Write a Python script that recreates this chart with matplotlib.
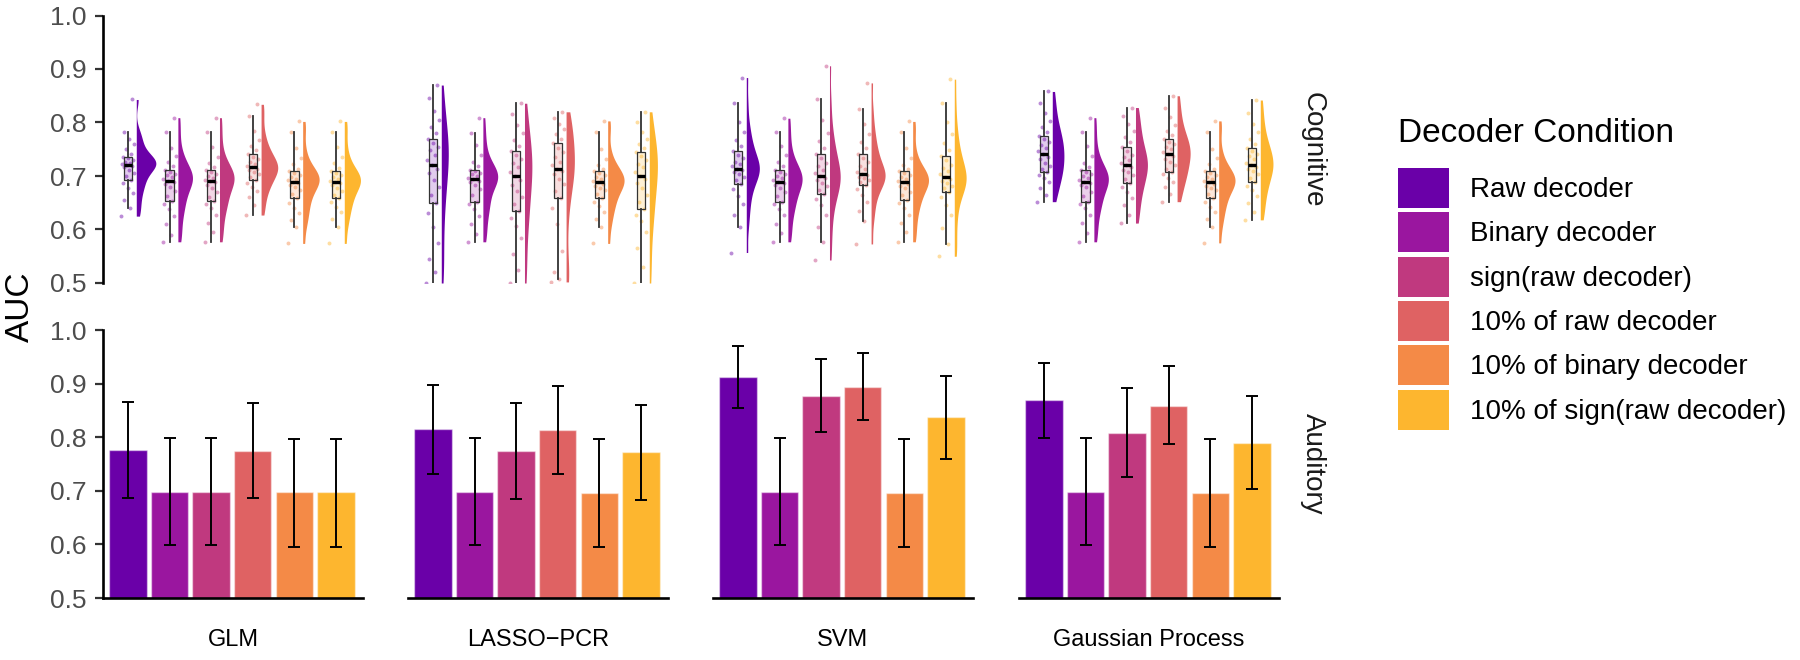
import numpy as np
import matplotlib
matplotlib.use("Agg")
import matplotlib.pyplot as plt
from matplotlib.patches import Patch
from matplotlib.colors import to_rgba

plt.rcParams['font.family'] = ['Liberation Sans', 'DejaVu Sans']

# ---------------- data ----------------
models = ["GLM", "LASSO\u2212PCR", "SVM", "Gaussian Process"]
conditions = ["Raw decoder", "Binary decoder", "sign(raw decoder)",
              "10% of raw decoder", "10% of binary decoder", "10% of sign(raw decoder)"]
tasks = ["Cognitive", "Auditory"]
colors = ["#6A00A8", "#9A169F", "#C0397F", "#DF6263", "#F48A47", "#FDB62F"]
yticks = [0.5, 0.6, 0.7, 0.8, 0.9, 1.0]

# Auditory: mean AUC and error-bar bounds (per condition)
aud_mean_glm = [0.776, 0.698, 0.698, 0.775, 0.697, 0.697]
aud_lo_glm = [0.686, 0.599, 0.599, 0.686, 0.596, 0.596]
aud_hi_glm = [0.866, 0.799, 0.799, 0.864, 0.797, 0.797]

aud_mean_lasso = [0.815, 0.698, 0.774, 0.813, 0.696, 0.772]
aud_lo_lasso = [0.731, 0.599, 0.685, 0.731, 0.596, 0.682]
aud_hi_lasso = [0.897, 0.799, 0.864, 0.896, 0.797, 0.861]

aud_mean_svm = [0.912, 0.698, 0.877, 0.894, 0.696, 0.837]
aud_lo_svm = [0.854, 0.599, 0.810, 0.832, 0.596, 0.760]
aud_hi_svm = [0.970, 0.799, 0.945, 0.958, 0.797, 0.915]

aud_mean_gp = [0.869, 0.698, 0.808, 0.859, 0.696, 0.789]
aud_lo_gp = [0.799, 0.599, 0.725, 0.787, 0.596, 0.703]
aud_hi_gp = [0.939, 0.799, 0.892, 0.932, 0.797, 0.876]

# Cognitive: per-subject AUC values
cog_glm = [
    [0.625, 0.640, 0.655, 0.668, 0.678, 0.686, 0.692, 0.700, 0.706, 0.712, 0.716, 0.719, 0.721,
     0.723, 0.725, 0.727, 0.730, 0.733, 0.735, 0.742, 0.750, 0.760, 0.770, 0.782, 0.843],
    [0.577, 0.590, 0.610, 0.625, 0.638, 0.647, 0.653, 0.662, 0.672, 0.680, 0.685, 0.688, 0.690,
     0.694, 0.698, 0.701, 0.704, 0.708, 0.712, 0.718, 0.726, 0.737, 0.752, 0.782, 0.809],
    [0.577, 0.595, 0.612, 0.628, 0.640, 0.648, 0.653, 0.660, 0.670, 0.678, 0.684, 0.688, 0.690,
     0.693, 0.697, 0.700, 0.703, 0.707, 0.712, 0.717, 0.724, 0.735, 0.755, 0.782, 0.809],
    [0.627, 0.645, 0.660, 0.672, 0.680, 0.687, 0.692, 0.698, 0.703, 0.707, 0.711, 0.714, 0.716,
     0.719, 0.722, 0.726, 0.731, 0.736, 0.741, 0.748, 0.757, 0.768, 0.785, 0.812, 0.834],
    [0.574, 0.604, 0.618, 0.630, 0.640, 0.650, 0.658, 0.666, 0.673, 0.679, 0.684, 0.687, 0.689,
     0.692, 0.695, 0.699, 0.702, 0.705, 0.709, 0.714, 0.722, 0.734, 0.752, 0.782, 0.802],
    [0.574, 0.604, 0.620, 0.632, 0.642, 0.651, 0.658, 0.665, 0.672, 0.678, 0.683, 0.686, 0.689,
     0.691, 0.694, 0.698, 0.701, 0.705, 0.709, 0.715, 0.724, 0.736, 0.755, 0.782, 0.802],
]
cog_lasso = [
    [0.500, 0.520, 0.545, 0.575, 0.605, 0.630, 0.649, 0.665, 0.680, 0.693, 0.705, 0.714, 0.721,
     0.730, 0.740, 0.748, 0.755, 0.762, 0.770, 0.780, 0.792, 0.805, 0.822, 0.845, 0.870],
    [0.577, 0.592, 0.610, 0.626, 0.638, 0.647, 0.652, 0.664, 0.675, 0.683, 0.688, 0.691, 0.694,
     0.697, 0.700, 0.703, 0.706, 0.709, 0.712, 0.718, 0.727, 0.740, 0.758, 0.781, 0.809],
    [0.500, 0.525, 0.555, 0.585, 0.607, 0.622, 0.635, 0.648, 0.660, 0.672, 0.684, 0.693, 0.700,
     0.708, 0.716, 0.724, 0.732, 0.740, 0.747, 0.757, 0.768, 0.780, 0.795, 0.815, 0.836],
    [0.502, 0.508, 0.520, 0.560, 0.610, 0.640, 0.658, 0.672, 0.685, 0.695, 0.703, 0.709, 0.714,
     0.720, 0.727, 0.735, 0.744, 0.752, 0.761, 0.770, 0.778, 0.787, 0.797, 0.808, 0.820],
    [0.574, 0.604, 0.620, 0.633, 0.643, 0.651, 0.658, 0.666, 0.673, 0.678, 0.682, 0.685, 0.688,
     0.691, 0.694, 0.698, 0.701, 0.705, 0.709, 0.714, 0.721, 0.732, 0.750, 0.783, 0.803],
    [0.500, 0.530, 0.565, 0.595, 0.615, 0.628, 0.638, 0.652, 0.665, 0.677, 0.687, 0.694, 0.700,
     0.708, 0.716, 0.723, 0.730, 0.737, 0.745, 0.752, 0.760, 0.770, 0.783, 0.800, 0.820],
]
cog_svm = [
    [0.557, 0.604, 0.628, 0.647, 0.662, 0.675, 0.685, 0.693, 0.699, 0.704, 0.708, 0.711, 0.714,
     0.718, 0.722, 0.727, 0.733, 0.740, 0.747, 0.757, 0.768, 0.782, 0.800, 0.836, 0.884],
    [0.577, 0.593, 0.611, 0.627, 0.639, 0.647, 0.652, 0.662, 0.671, 0.678, 0.683, 0.686, 0.689,
     0.693, 0.697, 0.700, 0.704, 0.708, 0.712, 0.718, 0.726, 0.739, 0.757, 0.782, 0.808],
    [0.543, 0.577, 0.605, 0.628, 0.645, 0.657, 0.666, 0.674, 0.681, 0.687, 0.692, 0.696, 0.700,
     0.705, 0.711, 0.718, 0.725, 0.733, 0.741, 0.752, 0.765, 0.780, 0.805, 0.843, 0.906],
    [0.573, 0.615, 0.635, 0.652, 0.665, 0.676, 0.683, 0.688, 0.692, 0.696, 0.699, 0.702, 0.704,
     0.708, 0.713, 0.719, 0.726, 0.734, 0.742, 0.752, 0.764, 0.778, 0.797, 0.826, 0.874],
    [0.577, 0.595, 0.613, 0.628, 0.640, 0.649, 0.656, 0.664, 0.671, 0.677, 0.682, 0.685, 0.688,
     0.691, 0.694, 0.698, 0.701, 0.705, 0.709, 0.714, 0.721, 0.733, 0.752, 0.782, 0.802],
    [0.550, 0.573, 0.603, 0.628, 0.646, 0.660, 0.670, 0.677, 0.682, 0.686, 0.690, 0.694, 0.699,
     0.704, 0.709, 0.715, 0.721, 0.729, 0.737, 0.748, 0.762, 0.778, 0.800, 0.836, 0.881],
]
cog_gp = [
    [0.652, 0.665, 0.678, 0.688, 0.696, 0.702, 0.707, 0.713, 0.719, 0.725, 0.731, 0.736, 0.741,
     0.747, 0.752, 0.758, 0.764, 0.770, 0.775, 0.783, 0.792, 0.803, 0.818, 0.836, 0.858],
    [0.577, 0.594, 0.612, 0.628, 0.640, 0.648, 0.652, 0.662, 0.671, 0.679, 0.684, 0.687, 0.689,
     0.692, 0.696, 0.700, 0.703, 0.707, 0.712, 0.717, 0.725, 0.738, 0.756, 0.783, 0.809],
    [0.612, 0.628, 0.645, 0.658, 0.670, 0.679, 0.686, 0.694, 0.701, 0.707, 0.712, 0.716, 0.720,
     0.725, 0.730, 0.735, 0.740, 0.746, 0.754, 0.763, 0.773, 0.784, 0.797, 0.812, 0.828],
    [0.652, 0.666, 0.679, 0.689, 0.697, 0.703, 0.707, 0.714, 0.721, 0.727, 0.732, 0.737, 0.741,
     0.745, 0.750, 0.754, 0.759, 0.764, 0.769, 0.776, 0.785, 0.796, 0.810, 0.828, 0.850],
    [0.575, 0.604, 0.619, 0.632, 0.642, 0.651, 0.658, 0.666, 0.673, 0.678, 0.682, 0.685, 0.688,
     0.691, 0.694, 0.698, 0.701, 0.705, 0.709, 0.714, 0.722, 0.733, 0.751, 0.783, 0.803],
    [0.618, 0.633, 0.649, 0.662, 0.673, 0.682, 0.689, 0.697, 0.704, 0.710, 0.714, 0.717, 0.720,
     0.725, 0.731, 0.737, 0.742, 0.747, 0.752, 0.760, 0.770, 0.782, 0.797, 0.817, 0.842],
]

cog_all = [cog_glm, cog_lasso, cog_svm, cog_gp]
aud_mean = [aud_mean_glm, aud_mean_lasso, aud_mean_svm, aud_mean_gp]
aud_lo = [aud_lo_glm, aud_lo_lasso, aud_lo_svm, aud_lo_gp]
aud_hi = [aud_hi_glm, aud_hi_lasso, aud_hi_svm, aud_hi_gp]

# ---------------- layout ----------------
W, H = 1800, 660
fig = plt.figure(figsize=(W / 100, H / 100), dpi=100)
panel_left = [103, 408, 713, 1019]
panel_w = 260
rows_px = [(15.5, 283.0), (330.0, 598.0)]
XLIM = (-0.6, 5.65)
xpos = np.arange(len(conditions))
TICK_GREY = "#4D4D4D"


def kde(vals, adjust=0.95, n=256):
    v = np.asarray(vals, float)
    m = len(v)
    sd = v.std(ddof=1)
    q75, q25 = np.percentile(v, [75, 25])
    bw = 0.9 * min(sd, (q75 - q25) / 1.34) * m ** -0.2 * adjust
    grid = np.linspace(v.min(), v.max(), n)
    d = np.exp(-0.5 * ((grid[:, None] - v[None, :]) / bw) ** 2).sum(1) / (m * bw * np.sqrt(2 * np.pi))
    return grid, d


# density for all violins, area-scaled with a common factor
dens = [[kde(g) for g in cog] for cog in cog_all]
dmax = max(d.max() for row in dens for (_, d) in row)
VMAX = 0.47  # max half-violin width in x units
VOFF = 0.2   # gap between box centre and violin start

jit = ((np.arange(25) * 0.618034) % 1.0 - 0.5) * 0.32

axes = {}
for r in range(2):
    y0, y1 = rows_px[r]
    for c in range(4):
        ax = fig.add_axes([panel_left[c] / W, 1 - y1 / H, panel_w / W, (y1 - y0) / H])
        ax.set_xlim(*XLIM)
        ax.set_ylim(0.5, 1.0)
        ax.set_xticks([])
        for s in ['top', 'right']:
            ax.spines[s].set_visible(False)
        ax.spines['left'].set_visible(c == 0)
        ax.spines['bottom'].set_visible(r == 1)
        for s in ['left', 'bottom']:
            ax.spines[s].set_linewidth(1.9)
            ax.spines[s].set_color('black')
        if c == 0:
            ax.set_yticks(yticks)
            ax.set_yticklabels([f"{t:.1f}" for t in yticks])
            ax.tick_params(axis='y', length=6, width=1.6, color='#333333',
                           labelcolor=TICK_GREY, labelsize=19, pad=6)
        else:
            ax.set_yticks([])
        ax.patch.set_alpha(0)
        axes[(r, c)] = ax

# ---------- Cognitive: raincloud ----------
for c in range(4):
    ax = axes[(0, c)]
    groups = cog_all[c]
    for i, g in enumerate(groups):
        grid, d = dens[c][i]
        w = d / dmax * VMAX
        ax.fill_betweenx(grid, xpos[i] + VOFF, xpos[i] + VOFF + w, color=colors[i],
                         lw=0, zorder=1)
        ax.scatter(xpos[i] + jit[:len(g)], g, s=8, color=colors[i], alpha=0.45,
                   lw=0, zorder=2)
    bp = ax.boxplot(groups, positions=xpos, widths=0.2, whis=1.5, showfliers=False,
                    showcaps=False, patch_artist=True, manage_ticks=False,
                    medianprops=dict(color='black', lw=2.4),
                    whiskerprops=dict(color='#333333', lw=1.3),
                    boxprops=dict(edgecolor='#333333', lw=0.9), zorder=3)
    for patch, col in zip(bp['boxes'], colors):
        patch.set_facecolor(to_rgba(col, 0.2))
    ax.set_xlim(*XLIM)
    ax.set_ylim(0.5, 1.0)

# ---------- Auditory: bars ----------
for c in range(4):
    ax = axes[(1, c)]
    m = np.array(aud_mean[c])
    lo = np.array(aud_lo[c])
    hi = np.array(aud_hi[c])
    ax.bar(xpos, m, width=0.9, color=colors, edgecolor=to_rgba('white', 0.45), lw=1.0, zorder=1)
    ax.errorbar(xpos, m, yerr=[m - lo, hi - m], fmt='none', ecolor='black',
                elinewidth=1.4, capsize=4, capthick=1.4, zorder=3)
    ax.set_ylim(0.5, 1.0)
    ax.text(0.5, (598 - 640) / 268, models[c], transform=ax.transAxes,
            ha='center', va='center', fontsize=17, color='black')

# strip labels on the right
for r in range(2):
    ax = axes[(r, 3)]
    ax.text(1 + (1313 - 1279) / panel_w, 0.5, tasks[r], transform=ax.transAxes,
            rotation=-90, ha='center', va='center', fontsize=20, color='#1A1A1A')

# y-axis title
fig.text(20 / W, 1 - 307 / H, "AUC", rotation=90, ha='center', va='center', fontsize=24)

# legend
fig.text(1398 / W, 1 - 134 / H, "Decoder Condition", ha='left', va='center', fontsize=24)
handles = [Patch(facecolor=col, edgecolor='none') for col in colors]
fs = 20
fs_px = fs * 100 / 72
fig.legend(handles, conditions, loc='upper left',
           bbox_to_anchor=(1398 / W, 1 - 168 / H), frameon=False, fontsize=fs,
           handlelength=51 / fs_px, handleheight=51 / fs_px,
           labelspacing=4.4 / fs_px, handletextpad=21 / fs_px,
           borderpad=0, borderaxespad=0)

fig.savefig("out.png", dpi=100, facecolor='white')
